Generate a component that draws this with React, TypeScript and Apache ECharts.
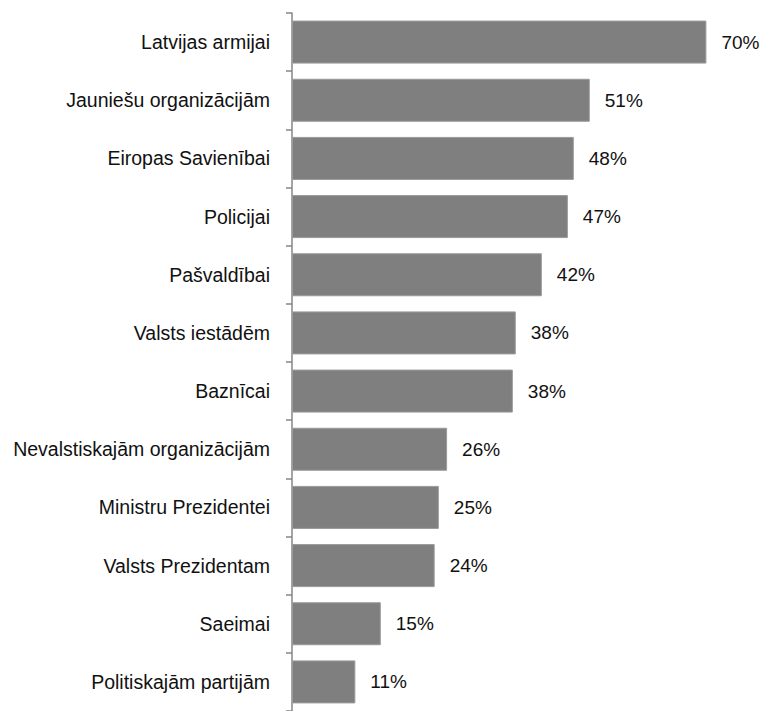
import React, { useEffect, useRef } from "react";
import * as echarts from "echarts";

const categories = [
  "Latvijas armijai",
  "Jauniešu organizācijām",
  "Eiropas Savienībai",
  "Policijai",
  "Pašvaldībai",
  "Valsts iestādēm",
  "Baznīcai",
  "Nevalstiskajām organizācijām",
  "Ministru Prezidentei",
  "Valsts Prezidentam",
  "Saeimai",
  "Politiskajām partijām",
];
const values = [70, 50.3, 47.6, 46.6, 42.2, 37.8, 37.3, 26.2, 24.8, 24.1, 15.0, 10.7];
const valueLabels = ["70%", "51%", "48%", "47%", "42%", "38%", "38%", "26%", "25%", "24%", "15%", "11%"];

export default function App() {
  const ref = useRef<HTMLDivElement>(null);
  useEffect(() => {
    if (!ref.current) return;
    const chart = echarts.init(ref.current, null, { renderer: "svg" });
    const font = "'Liberation Sans', Arial, sans-serif";
    chart.setOption({
      animation: false,
      backgroundColor: "#ffffff",
      grid: { left: 292, right: 26, top: 13, height: 700, containLabel: false },
      xAxis: {
        type: "value",
        min: 0,
        max: 75,
        show: false,
      },
      yAxis: {
        type: "category",
        inverse: true,
        data: categories,
        axisLine: { show: true, lineStyle: { color: "#868686", width: 1.5 } },
        axisTick: { show: true, length: 6, lineStyle: { color: "#868686", width: 1.5 } },
        axisLabel: { margin: 22, color: "#111", fontSize: 19.5, fontFamily: font },
        splitLine: { show: false },
      },
      series: [
        {
          type: "bar",
          data: values,
          barWidth: 43,
          itemStyle: { color: "#7f7f7f", borderColor: "#9a9a9a", borderWidth: 1 },
          label: {
            show: true,
            position: "right",
            distance: 15,
            color: "#111",
            fontSize: 19,
            fontFamily: font,
            formatter: (p: any) => valueLabels[p.dataIndex],
          },
        },
      ],
    });
    return () => chart.dispose();
  }, []);
  return (
    <div
      ref={ref}
      style={{ position: "fixed", left: 0, top: 0, width: 762, height: 711, background: "#fff" }}
    />
  );
}
